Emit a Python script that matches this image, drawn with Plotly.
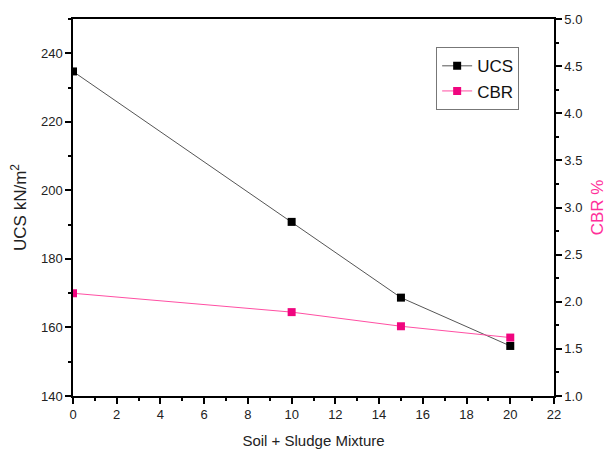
import plotly.graph_objects as go

mixture = [0, 10, 15, 20]
ucs = [234.7, 190.8, 168.7, 154.6]
cbr = [2.09, 1.89, 1.74, 1.62]

fig = go.Figure()
fig.add_trace(go.Scatter(
    x=mixture, y=ucs, name="UCS", mode="lines+markers",
    line=dict(color="#555555", width=1),
    marker=dict(symbol="square", size=8, color="black"),
))
fig.add_trace(go.Scatter(
    x=mixture, y=cbr, name="CBR", mode="lines+markers", yaxis="y2",
    line=dict(color="#ff4fa3", width=1),
    marker=dict(symbol="square", size=8, color="#f0057f"),
))

font = dict(family="Liberation Sans, Arial, sans-serif", size=13, color="#222222")
fig.update_layout(
    width=616, height=459,
    margin=dict(l=73, r=57, t=17, b=60),
    paper_bgcolor="white", plot_bgcolor="white",
    font=font,
    showlegend=True,
    legend=dict(x=0.755, y=0.925, xanchor="left", yanchor="top",
                bordercolor="#777777", borderwidth=1, bgcolor="white",
                font=dict(family="Liberation Sans, Arial, sans-serif", size=17, color="#111111"),
                tracegroupgap=0, itemwidth=30),
    xaxis=dict(
        range=[0, 22], tickmode="linear", tick0=0, dtick=2,
        showgrid=False, zeroline=False, showline=True, linecolor="black", linewidth=1.5,
        mirror=True, ticks="outside", ticklen=6, tickwidth=1.5, tickcolor="black",
        minor=dict(dtick=1, ticks="outside", ticklen=3, tickcolor="black", tickwidth=1.5),
        title=dict(text="Soil + Sludge Mixture", font=dict(size=15, color="#222222"), standoff=14),
    ),
    yaxis=dict(
        range=[140, 250], tickmode="array", tickvals=[140, 160, 180, 200, 220, 240],
        showgrid=False, zeroline=False, showline=True, linecolor="black", linewidth=1.5,
        ticks="outside", ticklen=6, tickwidth=1.5, tickcolor="black",
        minor=dict(tickvals=[150, 170, 190, 210, 230, 250], ticks="outside", ticklen=3,
                   tickcolor="black", tickwidth=1.5),
        title=dict(text="UCS kN/m<sup>2</sup>", font=dict(size=17, color="#222222"), standoff=10),
    ),
    yaxis2=dict(
        range=[1, 5], overlaying="y", side="right", tickmode="linear", tick0=1, dtick=0.5,
        tickformat=".1f",
        showgrid=False, zeroline=False, showline=True, linecolor="black", linewidth=1.5,
        ticks="outside", ticklen=6, tickwidth=1.5, tickcolor="black",
        minor=dict(dtick=0.25, ticks="outside", ticklen=3, tickcolor="black", tickwidth=1.5),
        title=dict(text="CBR %", font=dict(size=17, color="#ff2f9a"), standoff=10),
    ),
)

fig.write_html("out.html")
